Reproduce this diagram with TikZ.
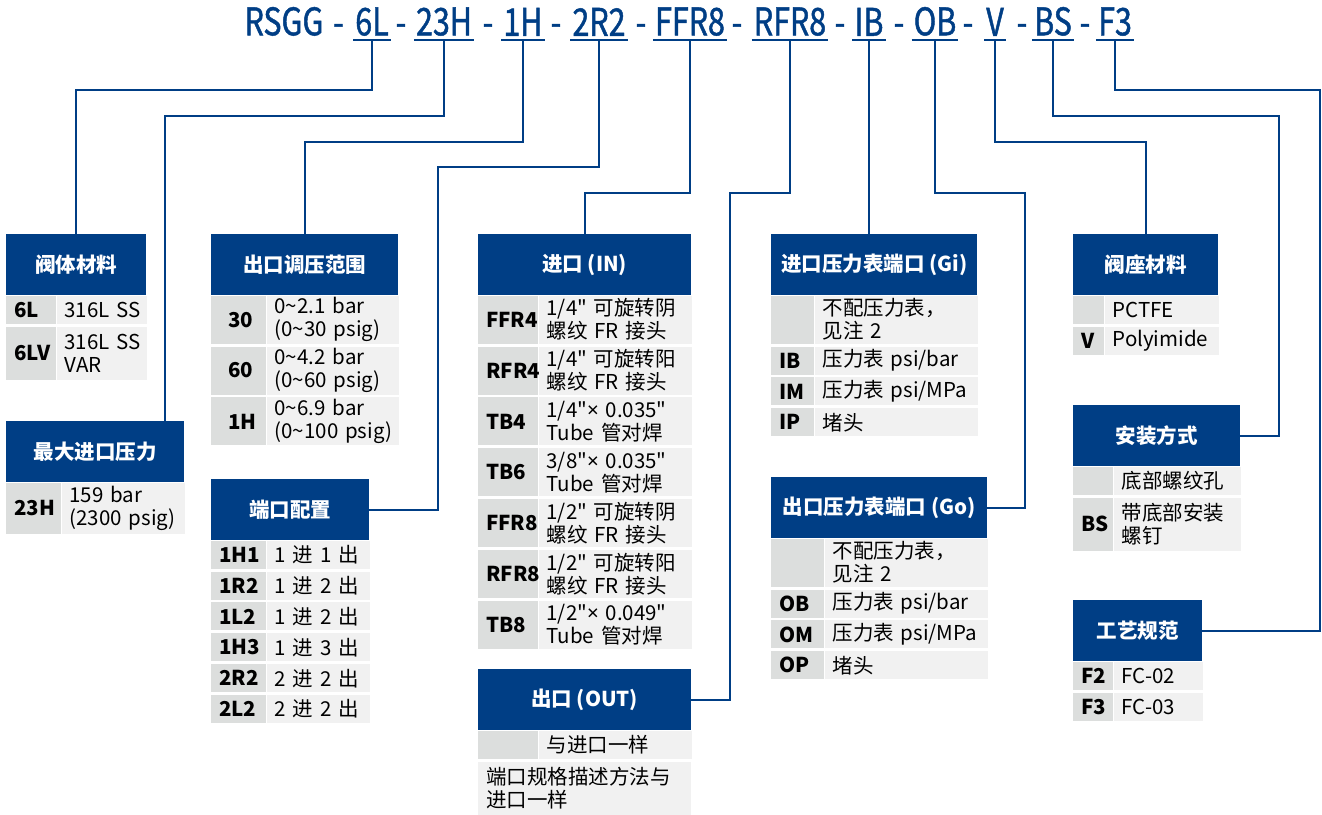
\documentclass[tikz,border=0pt]{standalone}
\usepackage{fontspec}
\setmainfont{Noto Sans CJK SC}[Ligatures=TeXOff]
\newfontfamily\titlefont{Noto Sans CJK SC}[FakeStretch=0.8, FakeBold=1.2]
\newfontfamily\latinfont{Noto Sans}
\newcommand{\bytimes}{{\latinfont ×}}
\usetikzlibrary{positioning}

\definecolor{swblue}{RGB}{0,62,133}
\definecolor{keygray}{RGB}{220,222,221}
\definecolor{valgray}{RGB}{241,241,241}

\tikzset{
    hdr/.style={fill=swblue, text=white, font=\fontsize{20.5pt}{23pt}\selectfont\bfseries,
        anchor=north west, inner sep=0pt, minimum height=61pt, align=center},
    kcell/.style={fill=keygray, font=\fontsize{20.5pt}{23pt}\selectfont\bfseries,
        anchor=north west, inner sep=0pt, align=left, pad=8pt},
    vcell/.style={fill=valgray, font=\fontsize{20.5pt}{23pt}\selectfont,
        anchor=north west, inner sep=0pt, align=left, pad=8pt},
    pad/.style={execute at begin node={\leftskip=#1}},
    cw/.style={minimum width=#1, text width=#1},
    rowone/.style={minimum height=28pt},
    rowtwo/.style={minimum height=48pt},
    under/.style={below=2.5pt of #1.south west, anchor=north west},
    tcode/.style={font=\titlefont\fontsize{38pt}{40pt}\selectfont, text=swblue,
        anchor=south, inner xsep=2pt, inner ysep=4pt},
    tdash/.style={font=\titlefont\fontsize{38pt}{40pt}\selectfont, text=swblue, anchor=base},
    uline/.style={draw=swblue, line width=2pt},
    link/.style={draw=swblue, line width=2pt},
}

\begin{document}
\begin{tikzpicture}[x=1pt, y=-1pt]
    \useasboundingbox (0,0) rectangle (1322,814);

    \node[tcode] (cRSGG) at (284,40) {RSGG};
    \node[tcode] (c6L) at (372,40) {6L};
    \node[tcode] (c23H) at (444,40) {23H};
    \node[tcode] (c1H) at (523,40) {1H};
    \node[tcode] (c2R2) at (599,40) {2R2};
    \node[tcode] (cFFR8) at (690,40) {FFR8};
    \node[tcode] (cRFR8) at (790,40) {RFR8};
    \node[tcode] (cIB) at (869,40) {IB};
    \node[tcode] (cOB) at (935,40) {OB};
    \node[tcode] (cV) at (995,40) {V};
    \node[tcode] (cBS) at (1053,40) {BS};
    \node[tcode] (cF3) at (1115,40) {F3};
    \foreach \x [count=\i] in {338.5,401,488,556,641,737,840,899,968,1022,1085}
        \node[tdash] (d\i) at (\x,36) {-};
    \foreach \c in {6L,23H,1H,2R2,FFR8,RFR8,IB,OB,V,BS,F3}
        \draw[uline] (c\c.south west) -- (c\c.south east);

    % 阀体材料
    \node[hdr, minimum width=140pt] (hBody) at (6,234) {阀体材料};
    \node[kcell, cw=50pt, rowone] (k6L) at (hBody.south west) {6L};
    \node[vcell, cw=90pt, rowone] (v6L) at (k6L.north east) {316L SS};
    \node[kcell, cw=50pt, minimum height=53pt, under=k6L] (k6LV) {6LV};
    \node[vcell, cw=90pt, minimum height=53pt] (v6LV) at (k6LV.north east) {316L SS\\VAR};

    % 最大进口压力
    \node[hdr, minimum width=178pt] (hInP) at (6,421) {最大进口压力};
    \node[kcell, cw=55pt, minimum height=51pt] (k23H) at (hInP.south west) {23H};
    \node[vcell, cw=123pt, minimum height=51pt] (v23H) at (k23H.north east) {159 bar\\(2300 psig)};

    % 出口调压范围
    \node[hdr, minimum width=187pt] (hRange) at (211,234) {出口调压范围};
    \node[kcell, cw=55pt, rowtwo, pad=17pt] (k30) at (hRange.south west) {30};
    \node[vcell, cw=132pt, rowtwo] (v30) at (k30.north east) {0\textasciitilde 2.1 bar\\(0\textasciitilde 30 psig)};
    \node[kcell, cw=55pt, rowtwo, pad=17pt, under=k30] (k60) {60};
    \node[vcell, cw=132pt, rowtwo] (v60) at (k60.north east) {0\textasciitilde 4.2 bar\\(0\textasciitilde 60 psig)};
    \node[kcell, cw=55pt, rowtwo, pad=17pt, under=k60] (k1H) {1H};
    \node[vcell, cw=132pt, rowtwo] (v1H) at (k1H.north east) {0\textasciitilde 6.9 bar\\(0\textasciitilde 100 psig)};

    % 端口配置
    \node[hdr, minimum width=158pt] (hPort) at (211,479) {端口配置};
    \node[kcell, cw=55pt, rowone] (k1H1) at (hPort.south west) {1H1};
    \node[vcell, cw=103pt, rowone] (v1H1) at (k1H1.north east) {1 进 1 出};
    \node[kcell, cw=55pt, rowone, under=k1H1] (k1R2) {1R2};
    \node[vcell, cw=103pt, rowone] (v1R2) at (k1R2.north east) {1 进 2 出};
    \node[kcell, cw=55pt, rowone, under=k1R2] (k1L2) {1L2};
    \node[vcell, cw=103pt, rowone] (v1L2) at (k1L2.north east) {1 进 2 出};
    \node[kcell, cw=55pt, rowone, under=k1L2] (k1H3) {1H3};
    \node[vcell, cw=103pt, rowone] (v1H3) at (k1H3.north east) {1 进 3 出};
    \node[kcell, cw=55pt, rowone, under=k1H3] (k2R2) {2R2};
    \node[vcell, cw=103pt, rowone] (v2R2) at (k2R2.north east) {2 进 2 出};
    \node[kcell, cw=55pt, rowone, under=k2R2] (k2L2) {2L2};
    \node[vcell, cw=103pt, rowone] (v2L2) at (k2L2.north east) {2 进 2 出};

    % 进口 (IN)
    \node[hdr, minimum width=213pt] (hIn) at (478,234) {进口 (IN)};
    \node[kcell, cw=60pt, rowtwo] (kFFR4) at (hIn.south west) {FFR4};
    \node[vcell, cw=153pt, rowtwo] (vFFR4) at (kFFR4.north east) {1/4" 可旋转阴\\螺纹 FR 接头};
    \node[kcell, cw=60pt, rowtwo, under=kFFR4] (kRFR4) {RFR4};
    \node[vcell, cw=153pt, rowtwo] (vRFR4) at (kRFR4.north east) {1/4" 可旋转阳\\螺纹 FR 接头};
    \node[kcell, cw=60pt, rowtwo, under=kRFR4] (kTB4) {TB4};
    \node[vcell, cw=153pt, rowtwo] (vTB4) at (kTB4.north east) {1/4"\bytimes{} 0.035"\\Tube 管对焊};
    \node[kcell, cw=60pt, rowtwo, under=kTB4] (kTB6) {TB6};
    \node[vcell, cw=153pt, rowtwo] (vTB6) at (kTB6.north east) {3/8"\bytimes{} 0.035"\\Tube 管对焊};
    \node[kcell, cw=60pt, rowtwo, under=kTB6] (kFFR8) {FFR8};
    \node[vcell, cw=153pt, rowtwo] (vFFR8) at (kFFR8.north east) {1/2" 可旋转阴\\螺纹 FR 接头};
    \node[kcell, cw=60pt, rowtwo, under=kFFR8] (kRFR8) {RFR8};
    \node[vcell, cw=153pt, rowtwo] (vRFR8) at (kRFR8.north east) {1/2" 可旋转阳\\螺纹 FR 接头};
    \node[kcell, cw=60pt, rowtwo, under=kRFR8] (kTB8) {TB8};
    \node[vcell, cw=153pt, rowtwo] (vTB8) at (kTB8.north east) {1/2"\bytimes{} 0.049"\\Tube 管对焊};

    % 出口 (OUT)
    \node[hdr, minimum width=213pt] (hOut) at (478,669) {出口 (OUT)};
    \node[kcell, cw=60pt, rowone] (kOut) at (hOut.south west) {};
    \node[vcell, cw=153pt, rowone] (vOut) at (kOut.north east) {与进口一样};
    \node[vcell, cw=213pt, minimum height=53pt, under=kOut] (vOutNote) {端口规格描述方法与\\进口一样};

    % 进口压力表端口 (Gi)
    \node[hdr, minimum width=206pt] (hGi) at (771,234) {进口压力表端口 (Gi)};
    \node[kcell, cw=43pt, rowtwo] (kGi) at (hGi.south west) {};
    \node[vcell, cw=163pt, rowtwo] (vGi) at (kGi.north east) {不配压力表，\\见注 2};
    \node[kcell, cw=43pt, rowone, under=kGi] (kIB) {IB};
    \node[vcell, cw=163pt, rowone] (vIB) at (kIB.north east) {压力表 psi/bar};
    \node[kcell, cw=43pt, rowone, under=kIB] (kIM) {IM};
    \node[vcell, cw=163pt, rowone] (vIM) at (kIM.north east) {压力表 psi/MPa};
    \node[kcell, cw=43pt, rowone, under=kIM] (kIP) {IP};
    \node[vcell, cw=163pt, rowone] (vIP) at (kIP.north east) {堵头};

    % 出口压力表端口 (Go)
    \node[hdr, minimum width=216pt] (hGo) at (771,477) {出口压力表端口 (Go)};
    \node[kcell, cw=53pt, rowtwo] (kGo) at (hGo.south west) {};
    \node[vcell, cw=163pt, rowtwo] (vGo) at (kGo.north east) {不配压力表，\\见注 2};
    \node[kcell, cw=53pt, rowone, under=kGo] (kOB) {OB};
    \node[vcell, cw=163pt, rowone] (vOB) at (kOB.north east) {压力表 psi/bar};
    \node[kcell, cw=53pt, rowone, under=kOB] (kOM) {OM};
    \node[vcell, cw=163pt, rowone] (vOM) at (kOM.north east) {压力表 psi/MPa};
    \node[kcell, cw=53pt, rowone, under=kOM] (kOP) {OP};
    \node[vcell, cw=163pt, rowone] (vOP) at (kOP.north east) {堵头};

    % 阀座材料
    \node[hdr, minimum width=145pt] (hSeat) at (1073,234) {阀座材料};
    \node[kcell, cw=31pt, rowone] (kSeat) at (hSeat.south west) {};
    \node[vcell, cw=114pt, rowone] (vSeat) at (kSeat.north east) {PCTFE};
    \node[kcell, cw=31pt, rowone, under=kSeat] (kV) {V};
    \node[vcell, cw=114pt, rowone] (vV) at (kV.north east) {Polyimide};

    % 安装方式
    \node[hdr, minimum width=167pt] (hMount) at (1073,405) {安装方式};
    \node[kcell, cw=40pt, rowone] (kMount) at (hMount.south west) {};
    \node[vcell, cw=127pt, rowone] (vMount) at (kMount.north east) {底部螺纹孔};
    \node[kcell, cw=40pt, minimum height=53pt, under=kMount] (kBS) {BS};
    \node[vcell, cw=127pt, minimum height=53pt] (vBS) at (kBS.north east) {带底部安装\\螺钉};

    % 工艺规范
    \node[hdr, minimum width=129pt] (hSpec) at (1073,600) {工艺规范};
    \node[kcell, cw=40pt, rowone] (kF2) at (hSpec.south west) {F2};
    \node[vcell, cw=89pt, rowone] (vF2) at (kF2.north east) {FC-02};
    \node[kcell, cw=40pt, rowone, under=kF2] (kF3) {F3};
    \node[vcell, cw=89pt, rowone] (vF3) at (kF3.north east) {FC-03};

    % leader lines
    \draw[link] (c6L.south) -- ++(0,50) -| (hBody.north);
    \draw[link] (c23H.south) -- ++(0,76) -| ([xshift=70pt]hInP.north);
    \draw[link] (c1H.south) -- ++(0,102) -| (hRange.north);
    \draw[link] (c2R2.south) -- ++(0,127) -- ++(-161,0) |- (hPort.east);
    \draw[link] (cFFR8.south) -- ++(0,153) -| (hIn.north);
    \draw[link] (cRFR8.south) -- ++(0,153) -- ++(-60,0) |- (hOut.east);
    \draw[link] (cIB.south) -- (cIB.south |- hGi.north);
    \draw[link] (cOB.south) -- ++(0,153) -- ++(90,0) |- (hGo.east);
    \draw[link] (cV.south) -- ++(0,102) -| (hSeat.north);
    \draw[link] (cBS.south) -- ++(0,76) -- ++(226,0) |- (hMount.east);
    \draw[link] (cF3.south) -- ++(0,50) -- ++(205,0) |- (hSpec.east);
\end{tikzpicture}
\end{document}
